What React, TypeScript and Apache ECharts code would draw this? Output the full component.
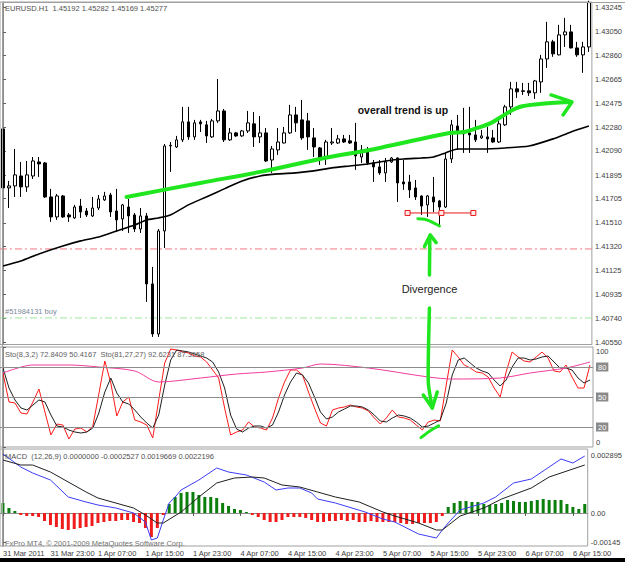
import { useEffect, useRef } from 'react';
import * as echarts from 'echarts';

const FONT = '"Liberation Sans", Arial, sans-serif';

// ---- time categories (H1 bars, weekend skipped) ----
const sessions: Array<[string, number, number]> = [
  ['31 Mar', 15, 23],
  ['1 Apr', 0, 23],
  ['4 Apr', 0, 23],
  ['5 Apr', 0, 23],
  ['6 Apr', 0, 17],
];
const categories: string[] = [];
sessions.forEach(([day, from, to]) => {
  for (let h = from; h <= to; h++) categories.push(`${day} ${String(h).padStart(2, '0')}:00`);
});
const firstTimeLabel = '31 Mar 2011';

// ---- axis tick labels ----
const priceTicks = [1.4055, 1.4074, 1.40935, 1.41125, 1.4132, 1.4151, 1.41705, 1.41895, 1.4209, 1.4228, 1.42475, 1.42665, 1.4286, 1.4305, 1.43245];
const stochTicks = [0, 20, 50, 80, 100];
const stochLevels = [20, 50, 80];
const macdTicks = [-0.00145, 0, 0.002895];

// ---- EURUSD H1 candles ----
const open = [
  1.42267, 1.41792, 1.41808, 1.41888, 1.418, 1.41888, 1.42001, 1.41993, 1.41719, 1.41558,
  1.41727, 1.41574, 1.4155, 1.41646, 1.41606, 1.41566, 1.4163, 1.41695, 1.41735, 1.41606,
  1.41542, 1.41638, 1.41574, 1.41461, 1.41566, 1.41018, 1.40615, 1.41445, 1.4213, 1.42122,
  1.42179, 1.42324, 1.42203, 1.42324, 1.423, 1.42203, 1.42332, 1.42412, 1.42179, 1.42235,
  1.42211, 1.42251, 1.42308, 1.42203, 1.42235, 1.42017, 1.42098, 1.42154, 1.42235, 1.4238,
  1.4234, 1.42332, 1.42195, 1.42114, 1.42041, 1.42154, 1.42154, 1.42187, 1.42171, 1.42162,
  1.42041, 1.42082, 1.41993, 1.41961, 1.41913, 1.42001, 1.42033, 1.4184, 1.4184, 1.41792,
  1.41727, 1.41655, 1.41719, 1.41687, 1.41638, 1.42025, 1.42291, 1.42251, 1.42235, 1.42219,
  1.42195, 1.42203, 1.42195, 1.42162, 1.423, 1.42445, 1.4259, 1.42574, 1.42574, 1.42558,
  1.42646, 1.42831, 1.42969, 1.42864, 1.43025, 1.43049, 1.4292, 1.42864, 1.42928,
];
const close = [
  1.41792, 1.41808, 1.41897, 1.418, 1.41897, 1.42009, 1.41985, 1.41719, 1.41558, 1.41727,
  1.41558, 1.41558, 1.41638, 1.41598, 1.41574, 1.4163, 1.41703, 1.41727, 1.41598, 1.41534,
  1.41655, 1.41566, 1.41461, 1.41566, 1.41018, 1.40615, 1.41445, 1.4213, 1.42135, 1.42179,
  1.42324, 1.42203, 1.42316, 1.42308, 1.42211, 1.42332, 1.42412, 1.42179, 1.42235, 1.42211,
  1.42251, 1.42316, 1.42203, 1.42235, 1.42009, 1.42106, 1.42162, 1.42235, 1.4238, 1.42316,
  1.42195, 1.42203, 1.42122, 1.42025, 1.42162, 1.42162, 1.42187, 1.42162, 1.42154, 1.4205,
  1.42098, 1.41993, 1.41961, 1.41913, 1.42001, 1.42033, 1.41832, 1.41824, 1.41776, 1.41719,
  1.41646, 1.41727, 1.41679, 1.41638, 1.42025, 1.423, 1.42243, 1.42227, 1.42219, 1.42179,
  1.42211, 1.42187, 1.42162, 1.42308, 1.42445, 1.4259, 1.42566, 1.4257, 1.42558, 1.42654,
  1.42831, 1.42969, 1.42872, 1.43025, 1.43049, 1.4292, 1.42864, 1.42928, 1.43285,
];
const low = [
  1.41711, 1.4163, 1.41719, 1.41719, 1.4176, 1.41864, 1.4188, 1.41711, 1.41518, 1.41534,
  1.4155, 1.41518, 1.41542, 1.4155, 1.41558, 1.41558, 1.41614, 1.41687, 1.41558, 1.41437,
  1.41445, 1.41429, 1.41437, 1.41429, 1.40873, 1.40591, 1.40591, 1.41308, 1.41921, 1.42114,
  1.42162, 1.42179, 1.42179, 1.42243, 1.42154, 1.42195, 1.42316, 1.42162, 1.42171, 1.42203,
  1.42203, 1.42235, 1.42122, 1.42154, 1.42001, 1.41913, 1.42058, 1.4215, 1.42227, 1.42243,
  1.42179, 1.42098, 1.42041, 1.41977, 1.41977, 1.42138, 1.42146, 1.42154, 1.42146, 1.41937,
  1.41993, 1.41977, 1.4184, 1.41897, 1.4184, 1.41993, 1.41679, 1.41776, 1.41711, 1.41695,
  1.41574, 1.41558, 1.41598, 1.41485, 1.4163, 1.41993, 1.42098, 1.42074, 1.42074, 1.42162,
  1.42187, 1.42074, 1.42154, 1.42154, 1.42291, 1.4238, 1.42517, 1.42541, 1.42533, 1.42509,
  1.42558, 1.42759, 1.42848, 1.4286, 1.42928, 1.42916, 1.42848, 1.42719, 1.42888,
];
const high = [
  1.42283, 1.41848, 1.42106, 1.42001, 1.42009, 1.42041, 1.42041, 1.42001, 1.41784, 1.41743,
  1.41735, 1.4159, 1.41655, 1.41703, 1.4163, 1.41719, 1.41735, 1.4176, 1.41752, 1.41784,
  1.41663, 1.41703, 1.4159, 1.4163, 1.4159, 1.41155, 1.41461, 1.42146, 1.42162, 1.42211,
  1.42445, 1.42445, 1.4234, 1.4234, 1.42332, 1.42348, 1.4267, 1.42428, 1.42275, 1.42243,
  1.42259, 1.42412, 1.42404, 1.42372, 1.42275, 1.4213, 1.42275, 1.42283, 1.42461, 1.42445,
  1.42501, 1.42396, 1.42275, 1.42122, 1.42179, 1.42275, 1.42219, 1.42219, 1.42219, 1.42316,
  1.42138, 1.42122, 1.42017, 1.42017, 1.42033, 1.42041, 1.42037, 1.42017, 1.41897, 1.41856,
  1.41731, 1.41735, 1.4188, 1.41695, 1.42074, 1.4234, 1.4238, 1.42437, 1.42445, 1.4234,
  1.42259, 1.42283, 1.42259, 1.4234, 1.42461, 1.42646, 1.42646, 1.42638, 1.42638, 1.42662,
  1.42864, 1.4313, 1.42985, 1.43106, 1.43162, 1.43106, 1.42969, 1.42969, 1.433,
];

// moving average (sampled at bar indices)
const maPoints = [
  [0, 1.41163], [3, 1.41203], [6, 1.4126], [10, 1.41324], [13, 1.41365], [16, 1.41397], [19, 1.41445],
  [22, 1.41493], [24, 1.41534], [26, 1.4155], [28, 1.41574], [31, 1.41655], [34, 1.41719], [37, 1.41784],
  [40, 1.41848], [43, 1.41888], [46, 1.41905], [49, 1.41913], [52, 1.41929], [55, 1.41953], [58, 1.41969],
  [61, 1.41985], [64, 1.42009], [67, 1.42025], [70, 1.42033], [72, 1.42041], [74, 1.42074], [76, 1.42106],
  [80, 1.42106], [84, 1.42114], [88, 1.4213], [92, 1.42187], [95, 1.42243], [98, 1.42291],
];
const pinkLevel = 1.413;
const buyLevel = 1.40744;
const buyLabel = '#51984131 buy';
const levelSpan = [-0.5, 98.5];

// ---- stochastic ----
const stochMain = [
  74, 45, 44, 34, 33, 45, 58, 35, 12, 23,
  22, 8, 18, 19, 15, 21, 53, 86, 64, 31,
  45, 50, 27, 25, 22, 9, 47, 84, 98, 97,
  95, 94, 91, 90, 85, 77, 69, 39, 12, 15,
  17, 25, 20, 19, 17, 29, 49, 65, 77, 77,
  72, 55, 39, 24, 21, 37, 39, 40, 42, 40,
  39, 36, 29, 23, 29, 37, 30, 29, 27, 22,
  17, 25, 27, 26, 62, 97, 90, 82, 79, 75,
  74, 70, 59, 50, 75, 95, 90, 86, 85, 90,
  95, 89, 76, 75, 82, 70, 59, 59, 82,
];
const stochSignal = [
  79, 59, 47, 39, 37, 42, 47, 45, 32, 21,
  20, 17, 15, 14, 15, 19, 34, 55, 69, 54,
  45, 43, 37, 30, 24, 19, 32, 62, 87, 97,
  96, 95, 93, 91, 89, 85, 75, 59, 32, 18,
  15, 19, 21, 21, 19, 22, 35, 52, 65, 74,
  72, 64, 50, 35, 28, 30, 35, 38, 41, 41,
  40, 37, 32, 26, 25, 29, 32, 31, 29, 25,
  20, 21, 24, 27, 44, 72, 87, 89, 84, 79,
  76, 74, 67, 61, 67, 80, 89, 89, 87, 88,
  90, 91, 85, 79, 79, 77, 69, 64, 67,
];
const stochSlow = [
  [0, 74], [5, 82], [11, 82], [16, 80], [22, 76], [26, 65], [33, 69], [39, 73], [44, 75],
  [50, 79], [53, 83], [61, 79], [71, 70], [75, 68], [83, 69], [88, 74], [94, 79], [98, 85],
];

// ---- MACD ----
const macdHist = [
  0.0005, 0.00025, 0.0001, -0.0001, -0.00015, -0.00015, -0.0002, -0.0004, -0.0006, -0.0007,
  -0.0008, -0.00085, -0.0008, -0.00075, -0.0007, -0.00065, -0.0005, -0.00045, -0.0004, -0.0004,
  -0.00035, -0.00035, -0.00045, -0.0005, -0.00075, -0.0012, -0.00075, -0.0001, 0.00045, 0.0008,
  0.001, 0.00105, 0.00105, 0.0009, 0.0008, 0.0008, 0.00075, 0.0005, 0.00035, 0.0002,
  0.00015, 0.00005, -0.0001, -0.0002, -0.00035, -0.00045, -0.00045, -0.00035, -0.0002, -0.0002,
  -0.0002, -0.00025, -0.00035, -0.00045, -0.00045, -0.0004, -0.0004, -0.00035, -0.0004, -0.00035,
  -0.00045, -0.00045, -0.0004, -0.00045, -0.00045, -0.00045, -0.00045, -0.0005, -0.00055, -0.00055,
  -0.0005, -0.0005, -0.0005, -0.00045, -0.00015, 0.0003, 0.0005, 0.0006, 0.0006, 0.00055,
  0.00055, 0.00045, 0.0004, 0.00045, 0.0005, 0.00065, 0.0006, 0.00055, 0.00055, 0.0006,
  0.00065, 0.0007, 0.00065, 0.00065, 0.00065, 0.00045, 0.0003, 0.0002, 0.00045,
];
const macdLine = [
  [0, 0.00295], [3, 0.0023], [5, 0.002], [8, 0.00165], [11, 0.0008], [14, 0.00055], [16, 0.0004],
  [19, 0.00025], [22, 0], [24, -0.00045], [25, -0.00135], [26, -0.00125], [27, -0.00035], [28, 0.0005],
  [29, 0.0008], [30, 0.00115], [33, 0.00165], [36, 0.00225], [38, 0.00205], [41, 0.0019], [44, 0.00155],
  [46, 0.00115], [48, 0.00125], [50, 0.00125], [52, 0.001], [53, 0.0007], [56, 0.0005], [61, 0.00005],
  [64, -0.0003], [66, -0.00045], [70, -0.00105], [73, -0.00125], [74, -0.00085], [75, -0.0005],
  [77, 0.00015], [81, 0.0005], [83, 0.0008], [86, 0.0015], [89, 0.0017], [92, 0.0023], [94, 0.0027],
  [96, 0.0025], [98, 0.00285],
];
const macdSignal = [
  [0, 0.00265], [3, 0.0024], [5, 0.0024], [8, 0.00205], [14, 0.00105], [16, 0.00075], [22, 0.00025],
  [24, -0.0001], [26, -0.0005], [27, -0.0005], [30, 0.00005], [33, 0.0008], [36, 0.0015], [39, 0.00175],
  [42, 0.0018], [44, 0.00175], [47, 0.0014], [50, 0.0013], [53, 0.00105], [56, 0.0008], [60, 0.00055],
  [64, 0.00005], [66, -0.00015], [70, -0.0005], [73, -0.00085], [74, -0.00085], [77, -0.00015],
  [81, 0.00025], [84, 0.0007], [89, 0.00125], [92, 0.0018], [96, 0.0022], [98, 0.0024],
];

// ---- hand-drawn annotations, in [bar index, value] ----
const trendStroke = [
  [20.67, 1.41719], [33, 1.41832], [43, 1.41921], [53, 1.42025], [63, 1.42114], [74.67, 1.42235],
  [77.17, 1.42243], [79.33, 1.42275], [81.67, 1.42316], [83.83, 1.4238], [86, 1.42437], [88.33, 1.42461],
  [91.67, 1.42477], [95, 1.42485],
];
const trendHead = [[91.67, 1.42541], [95.17, 1.42485], [93.67, 1.4238]];
const supportLine = [[67.67, 1.4159], [73.33, 1.4159], [78.67, 1.4159]];
const priceLowStroke = [[69.4, 1.41544], [70.5, 1.41539], [71.6, 1.4152], [73.0, 1.41485]];
const upShaft = [[71.33, 1.41091], [71.4, 1.41405]];
const upHead = [[70.5, 1.41319], [71.45, 1.41413], [72.45, 1.41351]];
const downStartPrice = [71.33, 1.40825];
const downShaftStoch = [[71.0, 65], [71.67, 39]];
const downHead = [[70.17, 52], [71.67, 39], [72.5, 55]];
const stochLowStroke = [[69.78, 9.3], [71.25, 16], [72.72, 21.3]];
const trendText = { text: 'overall trend is up', at: [59.33, 1.4242] };
const divergenceText = { text: 'Divergence', at: [71.33, 1.40978] };

const GRID_LEFT = -1;
const GRID_W = 594;
const AXIS_GRAY = '#8c8c8c';
const LABEL = { fontSize: 7.5, color: '#404040', fontFamily: FONT };

function buildOption(): any {
  const gridBase = { left: GRID_LEFT, width: GRID_W, show: true, borderColor: '#a0a0a0', borderWidth: 1 };
  const hiddenCat = (gridIndex: number) => ({ type: 'category', gridIndex, data: categories, show: false });
  const hiddenVal = (gridIndex: number) => ({ type: 'value', gridIndex, min: -0.5, max: 98.5, show: false });
  const levelSeries = (name: string, level: number, color: string) => ({
    type: 'line',
    name,
    xAxisIndex: 3,
    yAxisIndex: 0,
    data: levelSpan.map((x) => [x, level]),
    showSymbol: false,
    silent: true,
    z: 1,
    lineStyle: { color, width: 1, type: [7, 3, 2, 3] },
  });
  return {
    animation: false,
    backgroundColor: '#ffffff',
    grid: [
      { ...gridBase, top: 2, height: 342.5 },
      { ...gridBase, top: 347, height: 100 },
      { ...gridBase, top: 449, height: 97 },
    ],
    xAxis: [
      hiddenCat(0),
      hiddenCat(1),
      {
        type: 'category',
        gridIndex: 2,
        data: categories,
        axisLine: { show: true, lineStyle: { color: AXIS_GRAY } },
        axisTick: { show: true, interval: 7, alignWithLabel: true, length: 3, lineStyle: { color: '#606060' } },
        axisLabel: {
          ...LABEL,
          interval: 7,
          align: 'left',
          margin: 3,
          formatter: (v: string, i: number) => (i === 0 ? firstTimeLabel : v),
        },
      },
      hiddenVal(0),
      hiddenVal(1),
      hiddenVal(2),
    ],
    yAxis: [
      {
        type: 'value',
        gridIndex: 0,
        position: 'right',
        min: 1.4053,
        max: 1.4329,
        splitLine: { show: false },
        axisLine: { show: true, lineStyle: { color: AXIS_GRAY } },
        axisTick: { show: true, length: 3, customValues: priceTicks, lineStyle: { color: '#606060' } },
        axisLabel: {
          ...LABEL,
          margin: 3,
          showMinLabel: true,
          showMaxLabel: true,
          customValues: priceTicks,
          formatter: (v: number) => v.toFixed(5),
        },
      },
      {
        type: 'value',
        gridIndex: 1,
        position: 'right',
        min: 0,
        max: 100,
        splitLine: { show: false },
        axisLine: { show: true, lineStyle: { color: AXIS_GRAY } },
        axisTick: { show: true, length: 3, customValues: stochTicks, lineStyle: { color: '#606060' } },
        axisLabel: {
          ...LABEL,
          margin: 3,
          customValues: stochTicks,
          formatter: (v: number) =>
            v === 100 ? '{t|100}' : v === 0 ? '{b|0}' : `{l|${v}}`,
          rich: {
            t: { fontSize: 7.5, color: '#404040', fontFamily: FONT, padding: [9, 0, 0, 0] },
            b: { fontSize: 7.5, color: '#404040', fontFamily: FONT, padding: [0, 0, 9, 0] },
            l: { fontSize: 7.5, color: '#ffffff', fontFamily: FONT, backgroundColor: '#8a8a8a', padding: [1, 2, 0, 2] },
          },
        },
      },
      {
        type: 'value',
        gridIndex: 2,
        position: 'right',
        min: -0.00165,
        max: 0.0032,
        splitLine: { show: false },
        axisLine: { show: true, lineStyle: { color: AXIS_GRAY } },
        axisTick: { show: true, length: 3, customValues: macdTicks, lineStyle: { color: '#606060' } },
        axisLabel: {
          ...LABEL,
          margin: 3,
          customValues: macdTicks,
          formatter: (v: number) => (v === 0 ? '0.00' : String(v)),
        },
      },
    ],
    series: [
      levelSeries('level', pinkLevel, '#f27a84'),
      levelSeries(buyLabel, buyLevel, '#9be89b'),
      {
        type: 'candlestick',
        name: 'EURUSD.H1',
        xAxisIndex: 0,
        yAxisIndex: 0,
        barWidth: 3,
        clip: true,
        z: 3,
        data: open.map((o, i) => [o, close[i], low[i], high[i]]),
        itemStyle: { color: '#ffffff', color0: '#000000', borderColor: '#000000', borderColor0: '#000000', borderWidth: 1 },
      },
      {
        type: 'line',
        name: 'MA',
        xAxisIndex: 3,
        yAxisIndex: 0,
        data: maPoints,
        showSymbol: false,
        smooth: 0.2,
        z: 4,
        lineStyle: { color: '#000000', width: 1.6 },
      },
      {
        type: 'line',
        name: 'Sto main',
        xAxisIndex: 1,
        yAxisIndex: 1,
        data: stochMain,
        showSymbol: false,
        lineStyle: { color: '#ff1a1a', width: 1 },
        markLine: {
          silent: true,
          symbol: ['none', 'none'],
          label: { show: false },
          lineStyle: { color: '#8c8c8c', type: 'solid', width: 1 },
          data: stochLevels.map((v) => ({ yAxis: v })),
        },
      },
      {
        type: 'line',
        name: 'Sto signal',
        xAxisIndex: 1,
        yAxisIndex: 1,
        data: stochSignal,
        showSymbol: false,
        lineStyle: { color: '#202020', width: 1 },
      },
      {
        type: 'line',
        name: 'Sto slow',
        xAxisIndex: 4,
        yAxisIndex: 1,
        data: stochSlow,
        showSymbol: false,
        smooth: 0.3,
        lineStyle: { color: '#f03c9c', width: 1 },
      },
      {
        type: 'bar',
        name: 'MACD hist',
        xAxisIndex: 2,
        yAxisIndex: 2,
        barWidth: 3,
        data: macdHist.map((v) => ({ value: v, itemStyle: { color: v >= 0 ? '#0b7f0b' : '#f01c1c' } })),
      },
      {
        type: 'line',
        name: 'MACD',
        xAxisIndex: 5,
        yAxisIndex: 2,
        data: macdLine,
        showSymbol: false,
        lineStyle: { color: '#3c3cf5', width: 1 },
      },
      {
        type: 'line',
        name: 'Signal',
        xAxisIndex: 5,
        yAxisIndex: 2,
        data: macdSignal,
        showSymbol: false,
        lineStyle: { color: '#202020', width: 1 },
      },
    ],
  };
}

export default function App() {
  const ref = useRef<HTMLDivElement>(null);
  useEffect(() => {
    const chart = echarts.init(ref.current as HTMLDivElement, undefined, { renderer: 'svg' });
    chart.setOption(buildOption());

    const mainPx = (p: number[]) => chart.convertToPixel({ xAxisIndex: 3, yAxisIndex: 0 } as any, p) as unknown as number[];
    const stochPx = (p: number[]) => chart.convertToPixel({ xAxisIndex: 4, yAxisIndex: 1 } as any, p) as unknown as number[];
    const GREEN = '#1fe61f';
    const poly = (pts: number[][], stroke: string, lineWidth: number, smooth = 0) => ({
      type: 'polyline',
      z: 100,
      silent: true,
      shape: { points: pts, smooth },
      style: { stroke, lineWidth, fill: null, lineCap: 'round', lineJoin: 'round' },
    });
    const text = (x: number, y: number, t: string, font: string, fill: string, align = 'left', vAlign = 'middle') => ({
      type: 'text',
      z: 100,
      silent: true,
      x,
      y,
      style: { text: t, font, fill, align, verticalAlign: vAlign, textAlign: align, textVerticalAlign: vAlign },
    });

    const graphics: any[] = [];
    // window chrome
    graphics.push({ type: 'line', z: 90, silent: true, shape: { x1: 2.5, y1: 2.5, x2: 625, y2: 2.5 }, style: { stroke: '#a0a0a0', lineWidth: 1 } });
    graphics.push({ type: 'line', z: 90, silent: true, shape: { x1: 2.5, y1: 2.5, x2: 2.5, y2: 546.5 }, style: { stroke: '#a0a0a0', lineWidth: 1 } });
    graphics.push({ type: 'rect', z: 90, silent: true, shape: { x: 0, y: 558, width: 625, height: 4 }, style: { fill: '#000000' } });
    // pane captions
    const cap = `7.5px ${FONT}`;
    graphics.push(text(5, 8, 'EURUSD.H1  1.45192 1.45282 1.45169 1.45277', cap, '#505050'));
    graphics.push(text(5, 354, 'Sto(8,3,2) 72.8409 50.4167  Sto(81,27,27) 92.6231 87.3958', cap, '#606060'));
    graphics.push(text(5, 456, 'MACD  (12,26,9) 0.0000000 -0.0002527 0.0019669 0.0022196', cap, '#505050'));
    graphics.push(text(5, 543, 'FxPro MT4, © 2001-2009 MetaQuotes Software Corp.', cap, '#707070'));
    // order line label
    const bp = mainPx([0, buyLevel]);
    graphics.push(text(bp[0] + 2, bp[1] - 2, buyLabel, cap, '#7a8898', 'left', 'bottom'));

    // annotations
    graphics.push(poly(trendStroke.map(mainPx), GREEN, 4, 0.35));
    graphics.push(poly(trendHead.map(mainPx), GREEN, 3.5));
    const sup = supportLine.map(mainPx);
    graphics.push(poly([sup[0], sup[2]], '#e81818', 1));
    sup.forEach(([x, y]) =>
      graphics.push({ type: 'rect', z: 101, silent: true, shape: { x: x - 2.5, y: y - 2.5, width: 5, height: 5 }, style: { fill: '#ffe8e8', stroke: '#e81818', lineWidth: 1 } })
    );
    graphics.push(poly(priceLowStroke.map(mainPx), GREEN, 3, 0.3));
    graphics.push(poly(upShaft.map(mainPx), GREEN, 3.5));
    graphics.push(poly(upHead.map(mainPx), GREEN, 3.5));
    graphics.push(poly([mainPx(downStartPrice), ...downShaftStoch.map(stochPx)], GREEN, 3.5, 0.2));
    graphics.push(poly(downHead.map(stochPx), GREEN, 3.5));
    graphics.push(poly(stochLowStroke.map(stochPx), GREEN, 3, 0.3));
    const tp = mainPx(trendText.at);
    graphics.push(text(tp[0], tp[1], trendText.text, `bold 10.5px ${FONT}`, '#111111'));
    const dp = mainPx(divergenceText.at);
    graphics.push(text(dp[0], dp[1], divergenceText.text, `11px ${FONT}`, '#222222', 'center'));

    chart.setOption({ graphic: graphics });
    return () => chart.dispose();
  }, []);
  return (
    <div
      ref={ref}
      style={{ position: 'fixed', left: 0, top: 0, width: 625, height: 562, background: '#ffffff' }}
    />
  );
}
